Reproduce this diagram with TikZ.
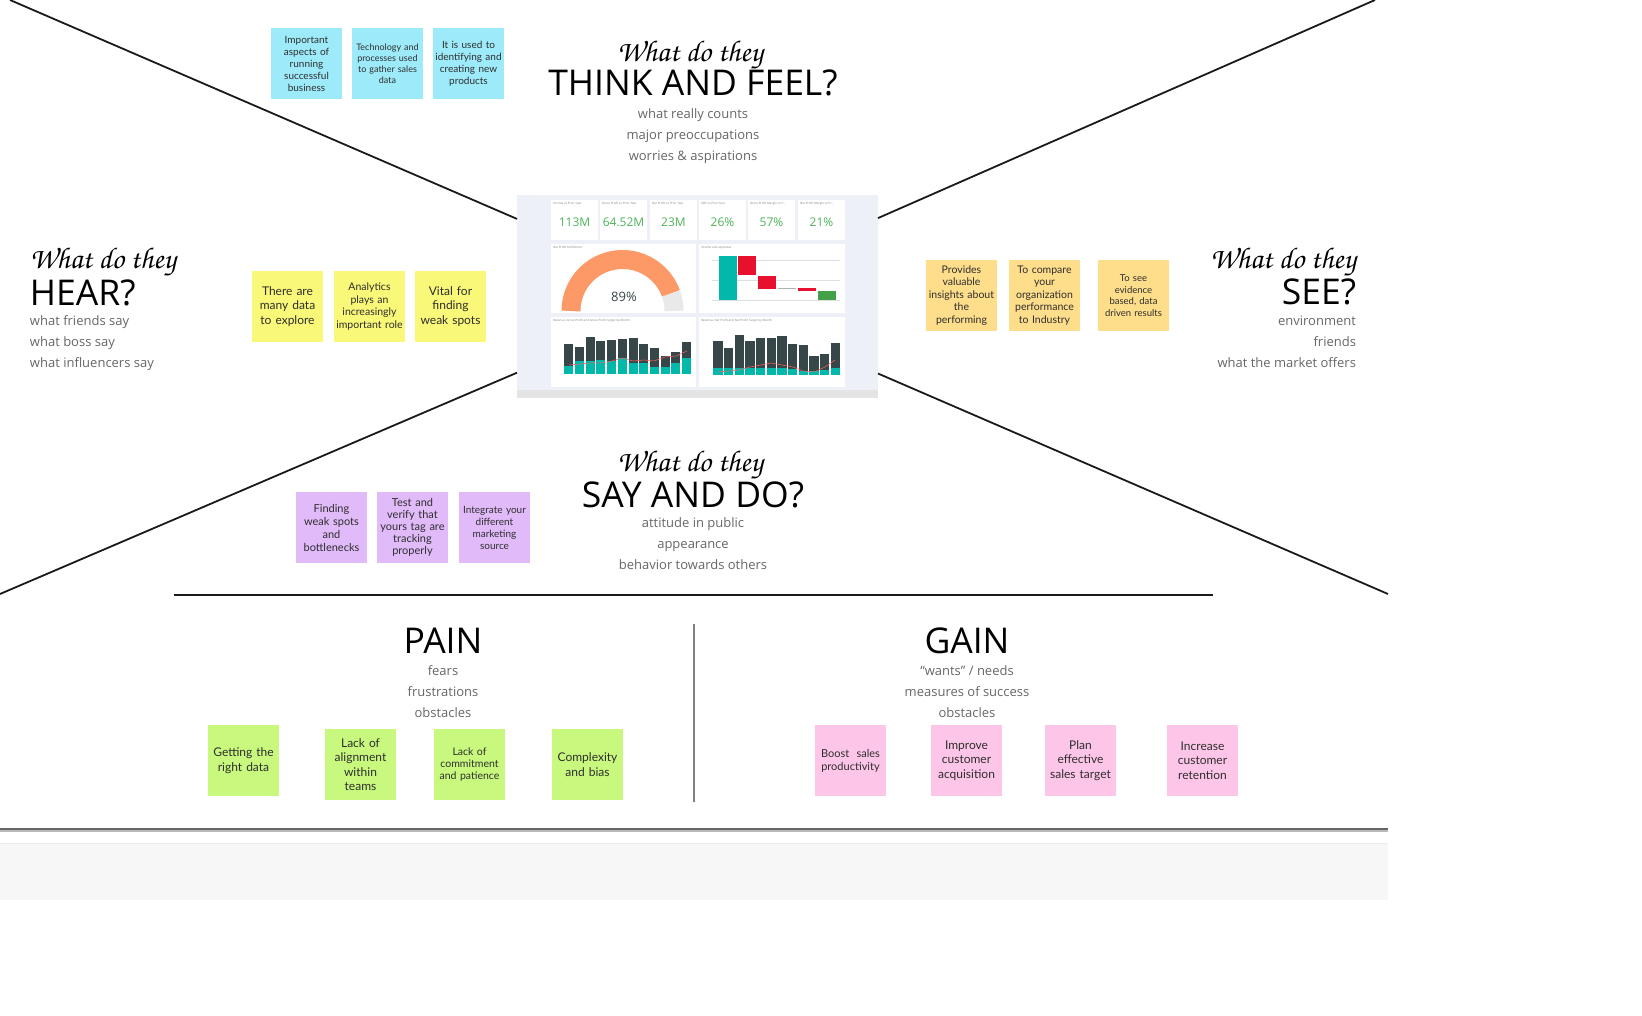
\documentclass[tikz,border=0pt]{standalone}
\usepackage{fontspec}
\usepackage[T1,TU]{fontenc}
\usepackage{xcolor}
\usepackage{tikz}
\usetikzlibrary{positioning}
\setmainfont{Open Sans}
\newfontfamily\notefont{Lato}
\newcommand{\askfont}{\usefont{T1}{pzc}{mb}{it}}
\definecolor{thinkcyan}{HTML}{9DEBFA}
\definecolor{hearyellow}{HTML}{F9F878}
\definecolor{seeorange}{HTML}{FEDD8B}
\definecolor{saypurple}{HTML}{E1BAF9}
\definecolor{paingreen}{HTML}{C8F87D}
\definecolor{gainpink}{HTML}{FDC5E8}
\definecolor{notetext}{HTML}{2E2E2E}
\definecolor{subgray}{HTML}{666666}
\definecolor{xink}{HTML}{1A1A1A}
\definecolor{dashbg}{HTML}{EDF0F6}
\definecolor{kpigreen}{HTML}{4DB25A}
\definecolor{pborange}{HTML}{FD9966}
\definecolor{gaugegray}{HTML}{E9E9E9}
\definecolor{pbteal}{HTML}{01B8AA}
\definecolor{pbdark}{HTML}{374649}
\definecolor{pbred}{HTML}{E8112D}
\definecolor{pbgreen}{HTML}{43A047}
\definecolor{pbline}{HTML}{FD625E}
\definecolor{pbfoot}{HTML}{E4E4E4}

\begin{document}
\begin{tikzpicture}[
  x=1pt,y=-1pt,
  every node/.style={inner sep=0pt,outer sep=0pt},
  sticky/.style={minimum width=71pt,minimum height=71pt,text width=69pt,align=center,text=notetext,font=\notefont\fontsize{12}{14.5}\selectfont},
  thinknote/.style={sticky,fill=thinkcyan,font=\notefont\fontsize{10}{12}\selectfont},
  hearnote/.style={sticky,fill=hearyellow},
  seenote/.style={sticky,fill=seeorange,font=\notefont\fontsize{10.5}{12.5}\selectfont},
  saynote/.style={sticky,fill=saypurple,font=\notefont\fontsize{11}{13}\selectfont},
  painnote/.style={sticky,fill=paingreen},
  gainnote/.style={sticky,fill=gainpink},
  askhead/.style={font=\askfont\fontsize{30}{30}\selectfont},
  bighead/.style={font=\fontsize{35.5}{35}\selectfont},
  subtext/.style={font=\fontsize{13}{21}\selectfont,text=subgray,align=center},
  xline/.style={line width=1.8pt,draw=xink},
  kpi/.style={font=\fontsize{12}{12}\selectfont,text=kpigreen},
  pbtitle/.style={font=\fontsize{3}{3}\selectfont,text=gray,anchor=north west}
]
\useasboundingbox (0,0) rectangle (1642,1016);

% dashboard in the middle
\node[fill=dashbg,minimum width=361pt,minimum height=203pt] (dash) at (697.5,296.5) {};
\coordinate (tl) at (10,0);
\coordinate (tr) at (1375,0);
\coordinate (bl) at (0,594);
\coordinate (br) at (1388,594);
\draw[xline] (tl) -- (dash);
\draw[xline] (tr) -- (dash);
\draw[xline] (bl) -- (dash);
\draw[xline] (br) -- (dash);

\foreach \x/\v/\t in {551/113M/Income vs Prior Year,600/64.52M/Gross Profit vs Prior Year,650/23M/Net Profit vs Prior Year,699/26\%/ROS vs Prior Year,748/57\%/Gross Profit Margin vs P\dots,798/21\%/Net Profit Margin vs Pr\dots}{
  \fill[white] (\x,200) rectangle (\x+47,240);
  \node[pbtitle] at (\x+2,202) {\t};
  \node[kpi] at (\x+23.5,222) {\v};
}
% gauge
\fill[white] (551,244) rectangle (696,313);
\node[pbtitle] at (553,246) {Net Profit Fulfillment};
\draw[pborange,line width=19pt] (622.5,311) ++(-180:51.5) arc[start angle=-180,end angle=-19.8,radius=51.5];
\draw[gaugegray,line width=19pt] (622.5,311) ++(-19.8:51.5) arc[start angle=-19.8,end angle=0,radius=51.5];
\node[font=\fontsize{13}{13}\selectfont,text=pbdark] (gaugeval) at (624,297) {89\%};
% waterfall
\fill[white] (699,244) rectangle (845,313);
\node[pbtitle] at (701,246) {Income and expenses};
\foreach \y in {260,280,300} \draw[gray!25,line width=0.4pt] (712,\y) -- (840,\y);
\fill[pbteal] (719,256) rectangle (737,300);
\fill[pbred] (738,256) rectangle (756,275);
\fill[pbred] (758,276) rectangle (776,289);
\fill[gray!60] (778,288.5) rectangle (796,289.5);
\fill[pbred] (798,288.5) rectangle (816,291.5);
\fill[pbgreen] (818,291) rectangle (836,300);
% monthly bars
\fill[white] (551,317) rectangle (696,387);
\fill[white] (699,317) rectangle (845,387);
\node[pbtitle] at (553,319) {Revenue, Gross Profit and Gross Profit Target by Month};
\node[pbtitle] at (701,319) {Revenue, Net Profit and Net Profit Target by Month};
\foreach \d/\t [count=\i from 0] in {344/366,347/361,337/361,341/360,340/361,339/358,338/363,344/363,348/367,356/367,352/363,342/358}{
  \fill[pbdark] (564.3+\i*10.7,\d) rectangle (573.3+\i*10.7,374);
  \fill[pbteal] (564.3+\i*10.7,\t) rectangle (573.3+\i*10.7,374);
}
\foreach \d/\t [count=\i from 0] in {341/368,348/368,335/368,341/368,338/368,338/368,336/368,344/369,345/371,356/371,354/370,343/368}{
  \fill[pbdark] (713.3+\i*10.67,\d) rectangle (722.6+\i*10.67,375);
  \fill[pbteal] (713.3+\i*10.67,\t) rectangle (722.6+\i*10.67,375);
}
\draw[pbline,line width=0.5pt] (569,365) -- (580,364) -- (590,363) -- (601,363) -- (612,361) -- (622,358) -- (633,361) -- (644,360) -- (654,361) -- (665,357) -- (676,356) -- (687,351);
\draw[pbline,line width=0.5pt] (718,372) -- (729,371) -- (739,370) -- (750,367) -- (761,365) -- (771,363) -- (782,365) -- (793,367) -- (803,371) -- (814,372) -- (825,367) -- (835,360);
\fill[pbfoot] (517,390) rectangle (878,398);

% think and feel
\node[askhead,anchor=base] (thinkask) at (690,62) {What do they};
\node[bighead,anchor=base] (thinkhead) at (693,96) {THINK AND FEEL?};
\node[subtext,anchor=north] (thinksub) at (693,109) {what really counts\\major preoccupations\\worries \& aspirations};
\node[thinknote,anchor=north west] (tf1) at (271,28) {Important\\aspects of\\running\\successful\\business};
\node[thinknote,right=10pt of tf1,font=\notefont\fontsize{9}{11}\selectfont] (tf2) {Technology and\\processes used\\to gather sales\\data};
\node[thinknote,right=10pt of tf2] (tf3) {It is used to\\identifying and\\creating new\\products};

% hear
\node[askhead,anchor=base west] (hearask) at (30,269) {What do they};
\node[bighead,anchor=base west] (hearhead) at (30,306) {HEAR?};
\node[subtext,align=left,anchor=north west] (hearsub) at (30,316) {what friends say\\what boss say\\what influencers say};
\node[hearnote,anchor=north west] (hn1) at (252,271) {There are\\many data\\to explore};
\node[hearnote,right=11pt of hn1,font=\notefont\fontsize{10.5}{12.5}\selectfont] (hn2) {Analytics\\plays an\\increasingly\\important role};
\node[hearnote,right=10pt of hn2] (hn3) {Vital for\\finding\\weak spots};

% see
\node[askhead,anchor=base east] (seeask) at (1356,269) {What do they};
\node[bighead,anchor=base east] (seehead) at (1356,305) {SEE?};
\node[subtext,align=right,anchor=north east] (seesub) at (1356,316) {environment\\friends\\what the market offers};
\node[seenote,anchor=north west] (sn1) at (926,260) {Provides\\valuable\\insights about\\the\\performing};
\node[seenote,right=12pt of sn1] (sn2) {To compare\\your\\organization\\performance\\to Industry};
\node[seenote,right=18pt of sn2,font=\notefont\fontsize{9.5}{11.5}\selectfont] (sn3) {To see\\evidence\\based, data\\driven results};

% say and do
\node[askhead,anchor=base] (sayask) at (690,471) {What do they};
\node[bighead,anchor=base] (sayhead) at (693,507) {SAY AND DO?};
\node[subtext,anchor=north] (saysub) at (693,518) {attitude in public\\appearance\\behavior towards others};
\node[saynote,anchor=north west] (sd1) at (296,492) {Finding\\weak spots\\and\\bottlenecks};
\node[saynote,right=10pt of sd1,font=\notefont\fontsize{11}{12}\selectfont] (sd2) {Test and\\verify that\\yours tag are\\tracking\\properly};
\node[saynote,right=11pt of sd2,font=\notefont\fontsize{10}{12}\selectfont] (sd3) {Integrate your\\different\\marketing\\source};

% pain and gain
\draw[line width=1.5pt,draw=xink] (174,595) -- (1213,595);
\draw[line width=1.5pt,draw=gray] (694,624) -- (694,802);
\node[bighead,anchor=base] (painhead) at (443,653) {PAIN};
\node[subtext,anchor=north] (painsub) at (443,666) {fears\\frustrations\\obstacles};
\node[painnote,anchor=north west] (pn1) at (208,725) {Getting the\\right data};
\node[painnote,right=46pt of pn1,yshift=-4pt] (pn2) {Lack of\\alignment\\within\\teams};
\node[painnote,right=38pt of pn2,font=\notefont\fontsize{10.5}{12}\selectfont] (pn3) {Lack of\\commitment\\and patience};
\node[painnote,right=47pt of pn3] (pn4) {Complexity\\and bias};
\node[bighead,anchor=base] (gainhead) at (967,653) {GAIN};
\node[subtext,anchor=north] (gainsub) at (967,666) {“wants” / needs\\measures of success\\obstacles};
\node[gainnote,anchor=north west,font=\notefont\fontsize{11}{13}\selectfont] (gn1) at (815,725) {Boost\ \ sales\\productivity};
\node[gainnote,right=45pt of gn1] (gn2) {Improve\\customer\\acquisition};
\node[gainnote,right=43pt of gn2] (gn3) {Plan\\effective\\sales target};
\node[gainnote,right=51pt of gn3] (gn4) {Increase\\customer\\retention};

% footer band
\draw[line width=2pt,draw=gray!80!black] (0,829) -- (1388,829);
\draw[line width=2pt,draw=gray!55] (0,831) -- (1388,831);
\fill[black!3] (0,843) rectangle (1388,900);
\draw[line width=1pt,draw=black!8] (0,843) -- (1388,843);
\end{tikzpicture}
\end{document}
